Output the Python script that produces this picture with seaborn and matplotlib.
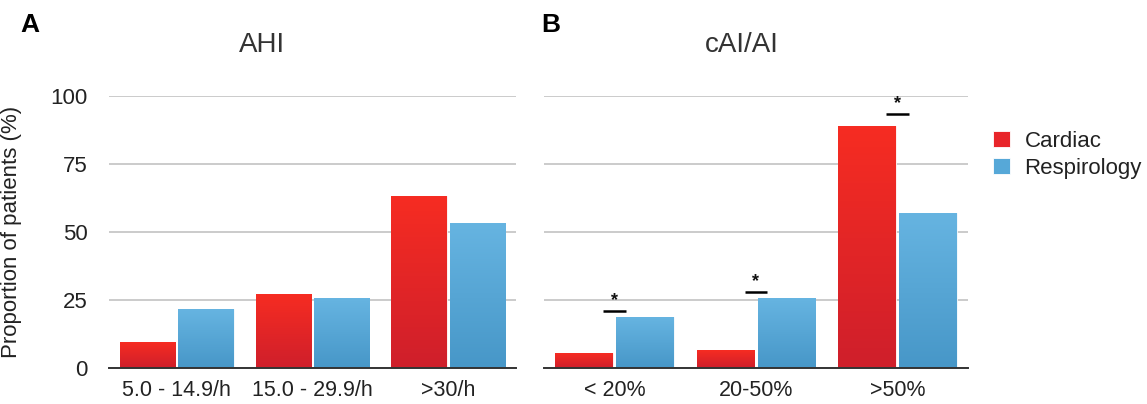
import numpy as np
import pandas as pd
import matplotlib
matplotlib.use("Agg")
import matplotlib.pyplot as plt
import seaborn as sns
from matplotlib.colors import LinearSegmentedColormap, to_hex

# ---------------- data ----------------
groups = ["Cardiac", "Respirology"]
ahi_categories = ["5.0 - 14.9/h", "15.0 - 29.9/h", ">30/h"]
ahi_cardiac = [9.4, 27.0, 63.0]
ahi_respirology = [21.5, 25.5, 53.2]

cai_categories = ["< 20%", "20-50%", ">50%"]
cai_cardiac = [5.5, 6.6, 88.9]
cai_respirology = [18.7, 25.6, 56.9]

# significance marks (category index, height of underline)
sig_categories = [0, 1, 2]
sig_heights = [20.8, 27.8, 93.3]

yticks = [0, 25, 50, 75, 100]
panel_titles = ["AHI", "cAI/AI"]
panel_letters = ["A", "B"]
ylabel = "Proportion of patients (%)"

# ---------------- style ----------------
sns.set_theme(style="white")
plt.rcParams["font.family"] = ["Liberation Sans", "DejaVu Sans"]
text_color = "#222222"

colors = {"Cardiac": "#e8252a", "Respirology": "#56a8d8"}
grad = {"#e8252a": ("#cf1f2b", "#f62c22"),
        "#56a8d8": ("#4797c8", "#66b4e1")}


def long_df(cats, card, resp):
    return pd.DataFrame({
        "category": cats * 2,
        "value": list(card) + list(resp),
        "group": ["Cardiac"] * len(cats) + ["Respirology"] * len(cats),
    })


fig = plt.figure(figsize=(11.47, 4.04), dpi=100)
W, H = 1147, 404
ax1 = fig.add_axes([109 / W, 1 - 367.5 / H, 407 / W, 271.6 / H])
ax2 = fig.add_axes([544 / W, 1 - 367.5 / H, 424 / W, 271.6 / H])

datasets = [(ax1, long_df(ahi_categories, ahi_cardiac, ahi_respirology), ahi_categories),
            (ax2, long_df(cai_categories, cai_cardiac, cai_respirology), cai_categories)]

for i, (ax, df, cats) in enumerate(datasets):
    sns.barplot(data=df, x="category", y="value", hue="group", order=cats,
                hue_order=groups, palette=colors, ax=ax, width=0.86, gap=0.05,
                edgecolor="#ffffff", linewidth=0.6, saturation=1, errorbar=None,
                legend=(i == 1), zorder=2)
    ax.set_xlim(-0.5, len(cats) - 0.5)
    ax.set_ylim(0, 100)
    # gradient fill clipped to each bar
    for p in list(ax.patches):
        if p.get_height() <= 0:
            continue
        fc = to_hex(p.get_facecolor())
        if fc not in grad:
            continue
        lo, hi = grad[fc]
        cmap = LinearSegmentedColormap.from_list("g", [lo, hi])
        x0, w, h = p.get_x(), p.get_width(), p.get_height()
        g = np.linspace(0, 1, 64).reshape(-1, 1)
        im = ax.imshow(g, cmap=cmap, origin="lower", aspect="auto",
                       extent=[x0, x0 + w, 0, h], zorder=2.5, interpolation="bilinear")
        im.set_clip_path(p)
    ax.set_xlim(-0.5, len(cats) - 0.5)
    ax.set_ylim(0, 100)
    ax.set_yticks(yticks)
    ax.yaxis.grid(True, color="#c2c2c2", linewidth=1.2, zorder=0)
    ax.xaxis.grid(False)
    ax.set_axisbelow(True)
    for s in ["top", "right", "left"]:
        ax.spines[s].set_visible(False)
    ax.spines["bottom"].set_color("#333333")
    ax.spines["bottom"].set_linewidth(1.4)
    ax.spines["bottom"].set_zorder(5)
    ax.tick_params(axis="both", length=0, colors=text_color)
    ax.tick_params(axis="x", labelsize=15.5, pad=9)
    ax.tick_params(axis="y", labelsize=16, pad=15.5)
    ax.set_xlabel("")
    ax.set_ylabel("")

ax2.set_yticklabels([])
ax1.set_ylabel(ylabel, fontsize=16, color=text_color)
ax1.yaxis.set_label_coords(-(109 - 22) / 407, 0.5)

# significance marks
for c, h in zip(sig_categories, sig_heights):
    ax2.plot([c - 0.08, c + 0.08], [h, h], color="black", lw=1.8,
             solid_capstyle="butt", clip_on=False, zorder=6)
    ax2.text(c, h + 0.8, "*", ha="center", va="bottom", fontsize=13,
             fontweight="bold", color="#111111", clip_on=False, zorder=6)

# legend
handles, labels = ax2.get_legend_handles_labels()
ax2.get_legend().remove()
fig.legend(handles, labels, loc="upper left", bbox_to_anchor=(993 / W, 1 - 131 / H),
           frameon=False, fontsize=16, handlelength=0.77, handleheight=0.75,
           handletextpad=0.65, labelspacing=0.25, borderpad=0, borderaxespad=0,
           labelcolor=text_color)

# titles and panel letters
fig.text(262 / W, 1 - 45 / H, panel_titles[0], fontsize=20, ha="center", va="center",
         color="#333333")
fig.text(742 / W, 1 - 45 / H, panel_titles[1], fontsize=20, ha="center", va="center",
         color="#333333")
fig.text(30 / W, 1 - 25 / H, panel_letters[0], fontsize=19, fontweight="bold",
         ha="center", va="center", color="black")
fig.text(551 / W, 1 - 25 / H, panel_letters[1], fontsize=19, fontweight="bold",
         ha="center", va="center", color="black")

fig.savefig("out.png", dpi=100, facecolor="white")
